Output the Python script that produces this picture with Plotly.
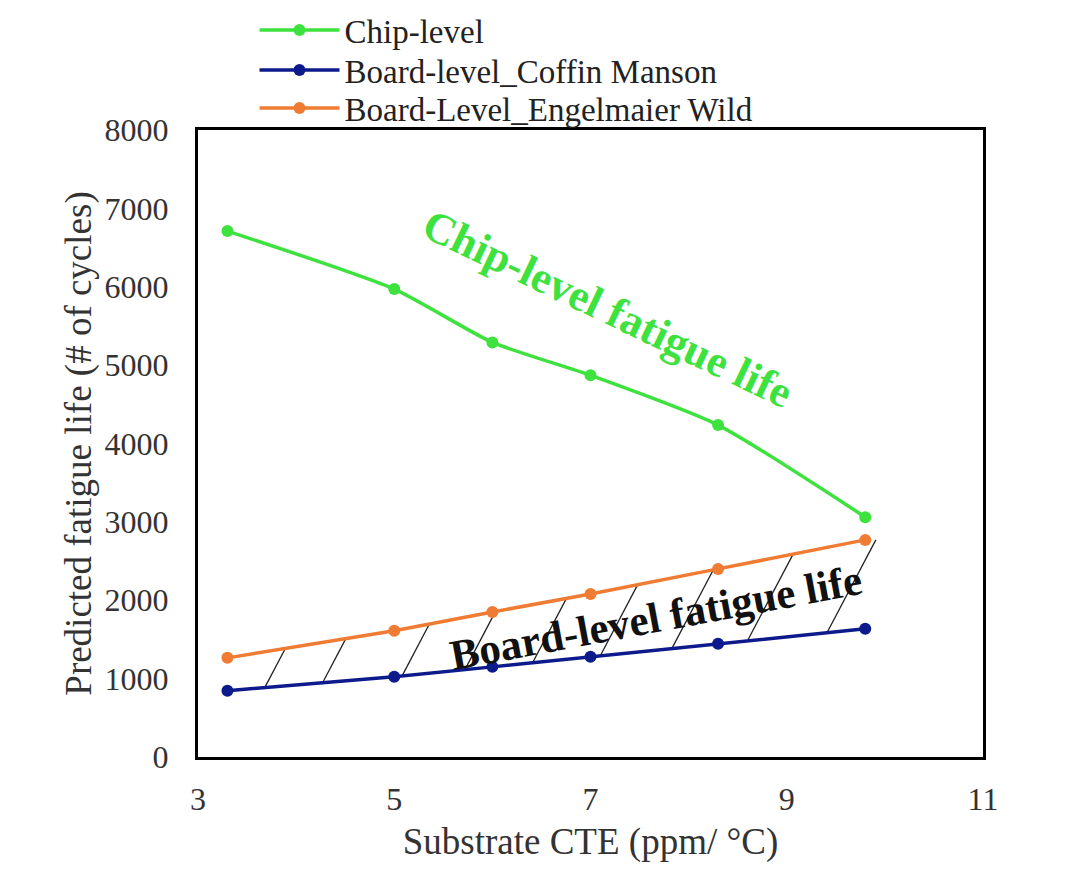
import numpy as np
import plotly.graph_objects as go

cte = [3.3, 5.0, 6.0, 7.0, 8.3, 9.8]
chip_level = [6710, 5970, 5290, 4870, 4235, 3060]
board_coffin = [845, 1025, 1150, 1280, 1445, 1635]
board_engel = [1265, 1610, 1850, 2080, 2400, 2770]
hatch_x = [3.68, 4.27, 5.08, 5.72, 6.41, 7.1, 7.83, 8.6, 9.41]

GREEN = "#3ee23e"
BLUE = "#0d1a8c"
ORANGE = "#f07b32"
FONT = "Liberation Serif"

fig = go.Figure()

# hatch lines between the two board-level curves
ppx_x = 785 / 8.0
ppx_y = 627 / 8000.0
slope_data = 1.9 * ppx_x / ppx_y  # y-units per x-unit along hatch direction
hx, hy = [], []
xs = np.array(cte)
for x0 in hatch_x:
    y0 = np.interp(x0, xs, board_coffin)
    ts = np.linspace(0, 1.5, 3001)
    diff = y0 + slope_data * ts - np.interp(x0 + ts, xs, board_engel)
    idx = np.argmax(diff >= 0)
    t = ts[idx]
    hx += [x0, x0 + t, None]
    hy += [y0, y0 + slope_data * t, None]
fig.add_trace(go.Scatter(x=hx, y=hy, mode="lines", line=dict(color="#222", width=1.3),
                         showlegend=False, hoverinfo="skip"))

fig.add_trace(go.Scatter(x=cte, y=chip_level, name="Chip-level", mode="lines+markers",
                         line=dict(color=GREEN, width=3.5, shape="spline", smoothing=0.6),
                         marker=dict(size=12, color=GREEN), legend="legend"))
fig.add_trace(go.Scatter(x=cte, y=board_coffin, name="Board-level_Coffin Manson", mode="lines+markers",
                         line=dict(color=BLUE, width=3.5),
                         marker=dict(size=12, color=BLUE), legend="legend2"))
fig.add_trace(go.Scatter(x=cte, y=board_engel, name="Board-Level_Engelmaier Wild", mode="lines+markers",
                         line=dict(color=ORANGE, width=3.5),
                         marker=dict(size=12, color=ORANGE), legend="legend3"))

fig.add_annotation(x=7.17, y=5720, text="<b>Chip-level fatigue life</b>", showarrow=False,
                   textangle=25.5, font=dict(family=FONT, size=44, color=GREEN))
fig.add_annotation(x=7.67, y=1780, text="<b>Board-level fatigue life</b>", showarrow=False,
                   textangle=-10.6, font=dict(family=FONT, size=43, color="#111"))

def leg(yc):
    return dict(x=0.072, y=1 + (130 - yc) / 627, xanchor="left", yanchor="middle",
                font=dict(family=FONT, size=33, color="#222"),
                bgcolor="rgba(0,0,0,0)", itemwidth=80)

fig.update_layout(
    width=1080, height=871,
    margin=dict(l=198, r=97, t=130, b=114, autoexpand=False),
    paper_bgcolor="white", plot_bgcolor="white",
    font=dict(family=FONT, color="#222"),
    legend=leg(30), legend2=leg(70), legend3=leg(108),
    xaxis=dict(range=[3, 11], dtick=2, tick0=3, showgrid=False, zeroline=False,
               showline=True, linecolor="black", linewidth=3, mirror=True,
               ticks="", ticklabelstandoff=12,
               tickfont=dict(family=FONT, size=32, color="#333"),
               title=dict(text="Substrate CTE (ppm/ °C)", font=dict(family=FONT, size=37, color="#333"),
                          standoff=12)),
    yaxis=dict(range=[0, 8000], dtick=1000, showgrid=False, zeroline=False,
               showline=True, linecolor="black", linewidth=3, mirror=True,
               ticks="", ticklabelstandoff=20,
               tickfont=dict(family=FONT, size=32, color="#333"),
               title=dict(text="Predicted fatigue life (# of cycles)", font=dict(family=FONT, size=37, color="#333"),
                          standoff=2)),
)

fig.write_html("out.html")
